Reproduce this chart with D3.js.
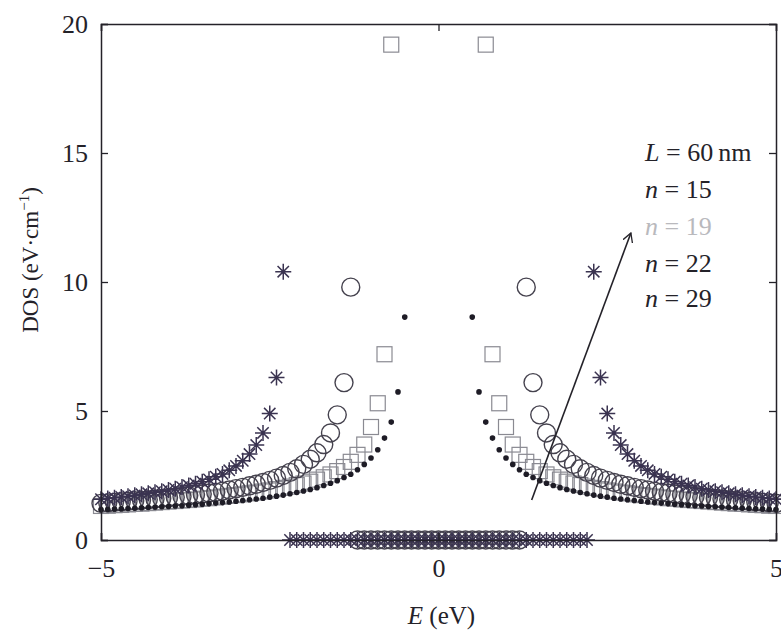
<!DOCTYPE html>
<html>
<head>
<meta charset="utf-8">
<script src="https://cdn.jsdelivr.net/npm/d3@7"></script>
<style>
  body { margin: 0; background: #fff; }
  text { font-family: "Liberation Serif", "DejaVu Serif", serif; }
</style>
</head>
<body>
<div id="chart"></div>
<script>
// energy grid (eV)
var energy = [-5.0,-4.9,-4.8,-4.7,-4.6,-4.5,-4.4,-4.3,-4.2,-4.1,-4.0,-3.9,-3.8,-3.7,-3.6,-3.5,-3.4,-3.3,-3.2,-3.1,
  -3.0,-2.9,-2.8,-2.7,-2.6,-2.5,-2.4,-2.3,-2.2,-2.1,-2.0,-1.9,-1.8,-1.7,-1.6,-1.5,-1.4,-1.3,-1.2,-1.1,
  -1.0,-0.9,-0.8,-0.7,-0.6,-0.5,-0.4,-0.3,-0.2,-0.1,0.0,0.1,0.2,0.3,0.4,0.5,0.6,0.7,0.8,0.9,
  1.0,1.1,1.2,1.3,1.4,1.5,1.6,1.7,1.8,1.9,2.0,2.1,2.2,2.3,2.4,2.5,2.6,2.7,2.8,2.9,
  3.0,3.1,3.2,3.3,3.4,3.5,3.6,3.7,3.8,3.9,4.0,4.1,4.2,4.3,4.4,4.5,4.6,4.7,4.8,4.9,5.0];

// DOS, star markers
var dosStar = [1.58,1.61,1.64,1.67,1.70,1.73,1.77,1.81,1.85,1.89,1.94,1.99,2.05,2.11,2.18,2.26,2.35,2.45,2.56,2.70,
  2.87,3.07,3.33,3.68,4.15,4.90,6.30,10.4,
  0,0,0,0,0,0,0,0,0,0,0,0,0,0,0,0,0,0,0,0,0,0,0,0,0,0,0,0,0,0,0,0,0,0,0,0,0,0,0,0,0,0,0,0,0,
  10.4,6.30,4.90,4.15,3.68,3.33,3.07,2.87,2.70,2.56,2.45,2.35,2.26,2.18,2.11,2.05,1.99,1.94,1.89,1.85,
  1.81,1.77,1.73,1.70,1.67,1.64,1.61,1.58];

// DOS, open circles
var dosCircle = [1.42,1.44,1.46,1.48,1.50,1.52,1.54,1.56,1.59,1.61,1.64,1.66,1.69,1.72,1.75,1.78,1.82,1.85,1.89,1.94,
  1.99,2.04,2.10,2.16,2.23,2.31,2.40,2.50,2.62,2.76,2.93,3.13,3.38,3.70,4.15,4.85,6.10,9.80,
  0,0,0,0,0,0,0,0,0,0,0,0,0,0,0,0,0,0,0,0,0,0,0,0,0,
  9.80,6.10,4.85,4.15,3.70,3.38,3.13,2.93,2.76,2.62,2.50,2.40,2.31,2.23,2.16,2.10,2.04,1.99,1.94,1.89,
  1.85,1.82,1.78,1.75,1.72,1.69,1.66,1.64,1.61,1.59,1.56,1.54,1.52,1.50,1.48,1.46,1.44,1.42];

// DOS, open squares
var dosSquare = [1.32,1.33,1.35,1.36,1.38,1.40,1.41,1.43,1.45,1.47,1.49,1.51,1.53,1.55,1.57,1.60,1.62,1.65,1.68,1.71,
  1.74,1.77,1.81,1.84,1.88,1.92,1.97,2.02,2.07,2.13,2.19,2.26,2.34,2.43,2.54,2.67,2.83,3.03,3.30,3.70,
  4.38,5.30,7.20,19.2,
  0,0,0,0,0,0,0,0,0,0,0,0,0,
  19.2,7.20,5.30,4.38,3.70,3.30,3.03,2.83,2.67,2.54,2.43,2.34,2.26,2.19,2.13,2.07,2.02,1.97,1.92,1.88,
  1.84,1.81,1.77,1.74,1.71,1.68,1.65,1.62,1.60,1.57,1.55,1.53,1.51,1.49,1.47,1.45,1.43,1.41,1.40,1.38,
  1.36,1.35,1.33,1.32];

// DOS, filled dots
var dosDot = [1.18,1.19,1.20,1.21,1.22,1.23,1.25,1.26,1.27,1.29,1.30,1.32,1.33,1.35,1.37,1.39,1.41,1.43,1.45,1.47,
  1.50,1.53,1.56,1.59,1.62,1.66,1.70,1.74,1.79,1.84,1.90,1.96,2.03,2.11,2.20,2.30,2.42,2.55,2.72,2.93,
  3.18,3.50,3.95,4.57,5.74,8.64,
  0,0,0,0,0,0,0,0,0,
  8.64,5.74,4.57,3.95,3.50,3.18,2.93,2.72,2.55,2.42,2.30,2.20,2.11,2.03,1.96,1.90,1.84,1.79,1.74,1.70,
  1.66,1.62,1.59,1.56,1.53,1.50,1.47,1.45,1.43,1.41,1.39,1.37,1.35,1.33,1.32,1.30,1.29,1.27,1.26,1.25,
  1.23,1.22,1.21,1.20,1.19,1.18];

var xTicks = [-5, 0, 5];
var yTicks = [0, 5, 10, 15, 20];
var legendLines = ["L = 60\u2009nm", "n = 15", "n = 19", "n = 22", "n = 29"];
var arrowFrom = [1.38, 1.55], arrowTo = [2.85, 11.9];

var margin = {top: 24, right: 5, bottom: 90, left: 101},
    width = 675,
    height = 516;

var ink = "#242229";

var x = d3.scaleLinear().domain([-5, 5]).range([0, width]);
var y = d3.scaleLinear().domain([0, 20]).range([height, 0]);

var svg = d3.select("#chart").append("svg")
    .attr("width", 781)
    .attr("height", 630)
  .append("g")
    .attr("transform", "translate(" + margin.left + "," + margin.top + ")");

svg.append("defs").append("marker")
    .attr("id", "head")
    .attr("viewBox", "0 0 10 10")
    .attr("refX", 9).attr("refY", 5)
    .attr("markerWidth", 10).attr("markerHeight", 10)
    .attr("markerUnits", "userSpaceOnUse")
    .attr("orient", "auto")
  .append("path")
    .attr("d", "M0,0 L9,5 L0,10")
    .attr("fill", "none")
    .attr("stroke", ink)
    .attr("stroke-width", 1.3);

function pts(vals) {
  return energy.map(function(e, i) { return {e: e, v: vals[i]}; });
}

// squares
svg.append("g").selectAll("rect")
    .data(pts(dosSquare))
  .enter().append("rect")
    .attr("x", function(d) { return x(d.e) - 7.5; })
    .attr("y", function(d) { return y(d.v) - 7.5; })
    .attr("width", 15).attr("height", 15)
    .attr("fill", "none")
    .attr("stroke", "#8a8a92")
    .attr("stroke-width", 1.2);

// circles
svg.append("g").selectAll("circle")
    .data(pts(dosCircle))
  .enter().append("circle")
    .attr("cx", function(d) { return x(d.e); })
    .attr("cy", function(d) { return y(d.v); })
    .attr("r", 9)
    .attr("fill", "none")
    .attr("stroke", "#45424e")
    .attr("stroke-width", 1.4);

// dots
svg.append("g").selectAll("circle")
    .data(pts(dosDot))
  .enter().append("circle")
    .attr("cx", function(d) { return x(d.e); })
    .attr("cy", function(d) { return y(d.v); })
    .attr("r", 2.8)
    .attr("fill", "#1e1c26");

// stars
var star = "M-8,0L8,0M0,-8L0,8M-5.7,-5.7L5.7,5.7M-5.7,5.7L5.7,-5.7";
svg.append("g").selectAll("path")
    .data(pts(dosStar))
  .enter().append("path")
    .attr("transform", function(d) { return "translate(" + x(d.e) + "," + y(d.v) + ")"; })
    .attr("d", star)
    .attr("fill", "none")
    .attr("stroke", "#3a3350")
    .attr("stroke-width", 1.5);

// arrow
svg.append("line")
    .attr("x1", x(arrowFrom[0])).attr("y1", y(arrowFrom[1]))
    .attr("x2", x(arrowTo[0])).attr("y2", y(arrowTo[1]))
    .attr("stroke", ink)
    .attr("stroke-width", 1.6)
    .attr("marker-end", "url(#head)");

// axes
var tickLen = -7;
svg.append("g")
    .attr("transform", "translate(0," + height + ")")
    .call(d3.axisBottom(x).tickValues(xTicks).tickSize(tickLen).tickPadding(19));
svg.append("g")
    .call(d3.axisLeft(y).tickValues(yTicks).tickSize(tickLen).tickPadding(13));
svg.append("g")
    .call(d3.axisTop(x).tickValues(xTicks).tickSize(tickLen).tickFormat(""));
svg.append("g")
    .attr("transform", "translate(" + width + ",0)")
    .call(d3.axisRight(y).tickValues(yTicks).tickSize(tickLen).tickFormat(""));

svg.selectAll(".domain").attr("stroke", ink).attr("stroke-width", 1.5);
svg.selectAll(".tick line").attr("stroke", ink).attr("stroke-width", 1.3);
svg.selectAll(".tick text")
    .style("font-family", "'Liberation Serif', serif")
    .style("font-size", "26px")
    .style("fill", ink);

// axis titles
var xl = svg.append("text")
    .attr("x", x(0) + 3)
    .attr("y", height + 84)
    .attr("text-anchor", "middle")
    .style("font-size", "25px")
    .style("fill", ink);
xl.append("tspan").style("font-style", "italic").text("E");
xl.append("tspan").text(" (eV)");

var yl = svg.append("text")
    .attr("transform", "translate(" + (-63) + "," + (y(10) - 22) + ") rotate(-90)")
    .attr("text-anchor", "middle")
    .style("font-size", "23px")
    .style("fill", ink);
yl.append("tspan").text("DOS (eV\u00b7cm");
yl.append("tspan").attr("dy", -9).style("font-size", "15px").text("\u22121");
yl.append("tspan").attr("dy", 9).text(")");

// legend text
var legendY = [137, 174, 211, 248, 283];
legendLines.forEach(function(s, i) {
  var t = svg.append("text")
      .attr("x", 544)
      .attr("y", legendY[i])
      .style("font-size", "26px")
      .style("fill", i === 2 ? "#b9b9bd" : ink);
  t.append("tspan").style("font-style", "italic").text(s.charAt(0));
  t.append("tspan").text(s.slice(1));
});
</script>
</body>
</html>
